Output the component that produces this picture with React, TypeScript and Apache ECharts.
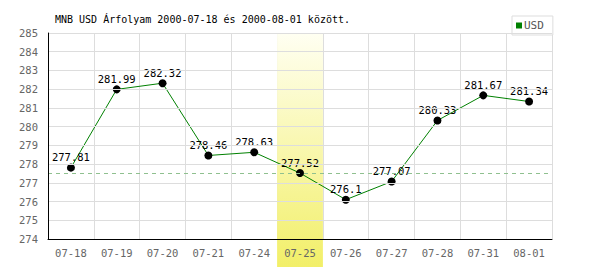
import React, { useEffect, useRef } from "react";
import * as echarts from "echarts";

const titleText = "MNB USD Árfolyam 2000-07-18 és 2000-08-01 között.";
const seriesName = "USD";
const categories = ["07-18", "07-19", "07-20", "07-21", "07-24", "07-25", "07-26", "07-27", "07-28", "07-31", "08-01"];
const values = [277.81, 281.99, 282.32, 278.46, 278.63, 277.52, 276.1, 277.07, 280.33, 281.67, 281.34];
const selectedIndex = 5;
const yMin = 274;
const yMax = 285;
const yInterval = 1;

const FONT = "'DejaVu Sans Mono', 'Liberation Mono', monospace";

export default function App() {
  const ref = useRef<HTMLDivElement>(null);
  useEffect(() => {
    document.body.style.margin = "0";
    const el = ref.current!;
    const chart = echarts.init(el, undefined, { renderer: "svg" });
    const grid = { left: 48, right: 48, top: 33, bottom: 31 };
    chart.setOption({
      animation: false,
      backgroundColor: "#ffffff",
      title: {
        text: titleText,
        left: 50,
        top: 9,
        textStyle: { fontFamily: FONT, fontSize: 10, fontWeight: "normal", color: "#000" },
      },
      legend: {
        data: [seriesName],
        left: 512,
        top: 16,
        padding: [4, 9, 4, 4],
        borderColor: "#dddddd",
        borderWidth: 1,
        backgroundColor: "#fff",
        icon: "rect",
        itemWidth: 6,
        itemHeight: 6,
        itemGap: 2,
        textStyle: { fontFamily: FONT, fontSize: 11, color: "#555", padding: [0, 0, 0, -3] },
        itemStyle: { color: "#008000" },
      },
      grid,
      xAxis: [
        {
          type: "category",
          data: categories,
          boundaryGap: true,
          z: 0,
          axisLine: { show: false },
          axisTick: { show: false },
          axisLabel: { show: false },
          splitLine: { show: true, interval: 0, lineStyle: { color: "#dddddd", width: 1 } },
        },
        {
          type: "category",
          data: categories,
          boundaryGap: true,
          z: 5,
          axisLine: { show: true, lineStyle: { color: "#000", width: 1 } },
          axisTick: { show: false },
          axisLabel: { show: true, interval: 0, margin: 8, color: "#666", fontFamily: FONT, fontSize: 10.5 },
          splitLine: { show: false },
          position: "bottom",
        },
      ],
      yAxis: {
        type: "value",
        min: yMin,
        max: yMax,
        interval: yInterval,
        z: 5,
        axisLine: { show: true, lineStyle: { color: "#000", width: 1 } },
        axisTick: { show: false },
        axisLabel: { color: "#666", fontFamily: FONT, fontSize: 10.5, margin: 10 },
        splitLine: { show: true, lineStyle: { color: "#dddddd", width: 1 } },
      },
      series: [
        {
          type: "line",
          name: "ref",
          data: [],
          z: 0,
          silent: true,
          markLine: {
            silent: true,
            symbol: "none",
            label: { show: false },
            lineStyle: { color: "#8fc08f", type: [4, 4], width: 1 },
            data: [{ yAxis: values[selectedIndex] }],
          },
        },
        {
          type: "line",
          name: seriesName,
          data: values,
          xAxisIndex: 0,
          z: 3,
          symbol: "circle",
          symbolSize: 8,
          lineStyle: { color: "#008000", width: 1 },
          itemStyle: { color: "#000" },
          label: {
            show: true,
            position: "top",
            distance: 1,
            color: "#000",
            fontFamily: FONT,
            fontSize: 10.5,
          },
        },
      ],
    });
    const cx = chart.convertToPixel({ xAxisIndex: 0 }, categories[selectedIndex]) as number;
    const plotW = 600 - grid.left - grid.right;
    const bw = plotW / categories.length;
    chart.setOption({
      graphic: [
        {
          type: "rect",
          z: 1,
          silent: true,
          shape: { x: cx - bw / 2, y: grid.top, width: bw, height: 267 - grid.top },
          style: {
            fill: new echarts.graphic.LinearGradient(0, 0, 0, 1, [
              { offset: 0, color: "#fffff2" },
              { offset: 1, color: "#f2ef68" },
            ]),
          },
        },
      ],
    });
    return () => chart.dispose();
  }, []);
  return <div ref={ref} style={{ width: 600, height: 270 }} />;
}
